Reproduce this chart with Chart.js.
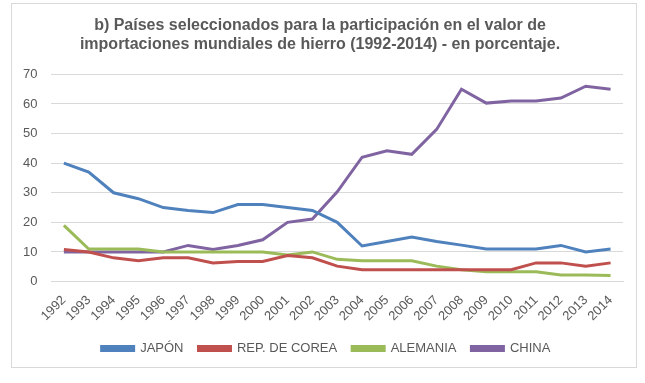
<!DOCTYPE html>
<html>
<head>
<meta charset="utf-8">
<script src="https://cdn.jsdelivr.net/npm/chart.js@4.4.0/dist/chart.umd.min.js"></script>
<style>
  body { margin: 0; background: #fff; }
  .frame { position: absolute; left: 11px; top: 3px; width: 624px; height: 363px; border: 1px solid #d9d9d9; }
  .wrap { position: absolute; left: 0; top: 0; width: 645px; height: 383px; }
</style>
</head>
<body>
<div class="frame"></div>
<div class="wrap"><canvas id="chart" width="645" height="383"></canvas></div>
<script>
const years = ['1992','1993','1994','1995','1996','1997','1998','1999','2000','2001','2002','2003',
               '2004','2005','2006','2007','2008','2009','2010','2011','2012','2013','2014'];
const japon    = [40, 37, 30, 28, 25, 24, 23.3, 26, 26, 25, 24, 20, 12, 13.5, 15, 13.5, 12.3, 11, 11, 11, 12.2, 10, 11];
const corea    = [10.8, 10, 8, 7, 8, 8, 6.3, 6.8, 6.8, 8.8, 8, 5.2, 4, 4, 4, 4, 4, 4, 4, 6.3, 6.3, 5.2, 6.3];
const alemania = [19, 11, 11, 11, 10, 10, 10, 10, 10, 9, 10, 7.5, 7, 7, 7, 5.2, 4, 3.3, 3.3, 3.3, 2.2, 2.2, 2];
const china    = [10, 10, 10, 10, 10, 12.2, 10.8, 12.2, 14.1, 20, 21.1, 30.3, 42, 44.2, 43, 51.4, 65, 60.3, 61, 61, 62, 66, 65];
const yTicks = [0, 10, 20, 30, 40, 50, 60, 70];

const gray = '#595959';
Chart.defaults.font.family = '"Liberation Sans", Arial, sans-serif';

function series(label, data, color) {
    return {
        label: label,
        data: data,
        borderColor: color,
        backgroundColor: color,
        borderWidth: 3,
        pointRadius: 0,
        tension: 0,
        fill: false
    };
}

// nudge title and legend a bit to the right, like the original
const blockShift = {
    id: 'blockShift',
    afterLayout(chart) {
        chart.legend.left += 10;
        chart.legend.right += 10;
        chart.titleBlock.left += 4;
        chart.titleBlock.right += 4;
    }
};

new Chart(document.getElementById('chart'), {
    type: 'line',
    data: {
        labels: years,
        datasets: [
            series('JAPÓN', japon, '#4F81BD'),
            series('REP. DE COREA', corea, '#C0504D'),
            series('ALEMANIA', alemania, '#9BBB59'),
            series('CHINA', china, '#8064A2')
        ]
    },
    options: {
        responsive: false,
        animation: false,
        layout: { padding: { left: 9, right: 22, top: 10, bottom: 18 } },
        plugins: {
            title: {
                display: true,
                text: ['b) Países seleccionados para la participación en el valor de',
                       'importaciones mundiales de hierro (1992-2014) - en porcentaje.'],
                color: gray,
                font: { size: 16, weight: 'bold' },
                padding: { top: 6, bottom: 20 },
                lineHeight: 1.25
            },
            legend: {
                position: 'bottom',
                labels: {
                    color: gray,
                    font: { size: 13 },
                    boxWidth: 32,
                    boxHeight: 4,
                    padding: 15
                }
            },
            tooltip: { enabled: false }
        },
        scales: {
            x: {
                offset: true,
                grid: { display: false },
                border: { color: '#d9d9d9' },
                ticks: { color: gray, font: { size: 13 }, minRotation: 45, maxRotation: 45, autoSkip: false, padding: 3 }
            },
            y: {
                min: 0,
                max: 70,
                afterBuildTicks: axis => { axis.ticks = yTicks.map(v => ({ value: v })); },
                grid: { color: '#d9d9d9', lineWidth: 1, drawTicks: false },
                border: { display: false },
                ticks: { color: gray, font: { size: 13 }, padding: 14 }
            }
        }
    },
    plugins: [blockShift]
});
</script>
</body>
</html>
